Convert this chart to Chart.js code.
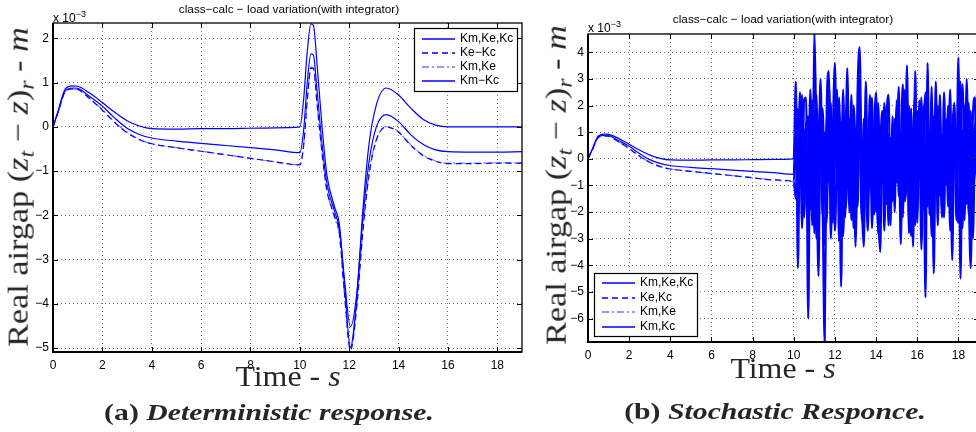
<!DOCTYPE html>
<html>
<head>
<meta charset="utf-8">
<script src="https://cdn.jsdelivr.net/npm/chart.js@4.4.1/dist/chart.umd.min.js"></script>
<style>
  html, body { margin: 0; padding: 0; background: #fff; }
  body { width: 976px; height: 432px; overflow: hidden; position: relative; font-family: "Liberation Sans", Arial, sans-serif; }
  .pane { position: absolute; top: 0; height: 432px; }
  .txt { position: absolute; white-space: nowrap; color: #000; }
  .title { font-size: 11.8px; line-height: 13px; transform: translateX(-50%); }
  .expo { font-size: 12px; line-height: 14px; }
  .expo sup { font-size: 9px; vertical-align: 5px; }
  .serif { font-family: "Liberation Serif", "Times New Roman", serif; font-size: 29px; line-height: 32px; color: #262626; }
  .ylab { transform: translate(-50%, -50%) rotate(-90deg) scaleX(1.18); }
  .xlab { transform: translate(-50%, -50%) scaleX(1.1); }
  .serif .sb { font-size: 0.7em; vertical-align: -0.28em; }
  .cap { font-family: "Liberation Serif", "Times New Roman", serif; font-size: 24px; line-height: 28px; font-weight: bold; color: #262626; transform: translate(-50%, -50%) scaleX(1.24); }
</style>
</head>
<body>
<div class="pane" style="left:0;width:540px"><canvas id="detChart" width="540" height="432"></canvas></div>
<div class="pane" style="left:540px;width:450px"><canvas id="stoChart" width="450" height="432"></canvas></div>

<div class="txt title" style="left:289px;top:3px">class−calc − load variation(with integrator)</div>
<div class="txt title" style="left:783px;top:13px">class−calc − load variation(with integrator)</div>
<div class="txt expo" style="left:53px;top:7px">x 10<sup>−3</sup></div>
<div class="txt expo" style="left:588px;top:17px">x 10<sup>−3</sup></div>

<div class="txt serif ylab" style="left:22px;top:187px">Real airgap (<i>z</i><span class="sb"><i>t</i></span> − <i>z</i>)<span class="sb"><i>r</i></span> - <i>m</i></div>
<div class="txt serif ylab" style="left:560px;top:185px">Real airgap (<i>z</i><span class="sb"><i>t</i></span> − <i>z</i>)<span class="sb"><i>r</i></span> - <i>m</i></div>
<div class="txt serif xlab" style="left:288px;top:376px">Time - <i>s</i></div>
<div class="txt serif xlab" style="left:783px;top:368px">Time - <i>s</i></div>

<div class="txt cap" style="left:269px;top:412px">(a) <i>Deterministic response.</i></div>
<div class="txt cap" style="left:775px;top:411px">(b) <i>Stochastic Responce.</i></div>

<script>
// ---- data (values x 10^-3) ----
const xTicks = [0, 2, 4, 6, 8, 10, 12, 14, 16, 18];
const detYTicks = [-5, -4, -3, -2, -1, 0, 1, 2];
const stoYTicks = [-6, -5, -4, -3, -2, -1, 0, 1, 2, 3, 4];

const detLabels = ['Km,Ke,Kc', 'Ke−Kc', 'Km,Ke', 'Km−Kc'];
const stoLabels = ['Km,Ke,Kc', 'Ke,Kc', 'Km,Ke', 'Km,Kc'];

// deterministic run
const detTime = [0, 0.2, 0.5, 0.8, 1.0, 1.5, 2, 2.5, 3, 3.5, 4, 5, 6, 7, 8, 9, 10,
  10.15, 10.3, 10.45, 10.55, 10.7, 10.9, 11.1, 11.4, 11.6, 11.8, 12.05, 12.3, 12.55, 12.8, 13.1, 13.5,
  14, 14.5, 15, 15.5, 16, 17, 18, 19];
const detKmKeKc = [0, 0.35, 0.86, 0.93, 0.92, 0.76, 0.55, 0.33, 0.14, 0.02, -0.04, -0.05, -0.04, -0.04, -0.03, -0.02, 0.0,
  0.6, 1.7, 2.33, 2.3, 1.4, 0.0, -1.1, -1.8, -2.2, -3.5, -4.98, -3.9, -1.9, -0.4, 0.5, 0.88,
  0.72, 0.42, 0.17, 0.04, 0.0, 0.0, 0.0, 0.0];
const detKmKc = [0, 0.33, 0.82, 0.88, 0.87, 0.68, 0.47, 0.2, -0.03, -0.17, -0.25, -0.32, -0.37, -0.42, -0.47, -0.52, -0.58,
  -0.1, 1.0, 1.65, 1.62, 0.8, -0.4, -1.3, -1.9, -2.3, -3.4, -4.52, -3.8, -2.1, -0.8, 0.0, 0.28,
  0.12, -0.18, -0.4, -0.52, -0.56, -0.57, -0.57, -0.56];
const detKeKc = [0, 0.32, 0.8, 0.86, 0.85, 0.63, 0.38, 0.1, -0.13, -0.29, -0.38, -0.47, -0.55, -0.63, -0.71, -0.79, -0.86,
  -0.45, 0.6, 1.33, 1.32, 0.5, -0.6, -1.45, -2.0, -2.4, -3.7, -5.05, -4.1, -2.4, -1.1, -0.3, 0.0,
  -0.12, -0.42, -0.65, -0.78, -0.83, -0.83, -0.82, -0.82];
const detKmKe = [0, 0.32, 0.8, 0.86, 0.85, 0.64, 0.39, 0.11, -0.12, -0.28, -0.38, -0.47, -0.55, -0.63, -0.71, -0.79, -0.86,
  -0.43, 0.62, 1.35, 1.33, 0.52, -0.58, -1.42, -2.05, -2.45, -3.75, -5.0, -4.05, -2.35, -1.05, -0.28, 0.01,
  -0.11, -0.41, -0.64, -0.77, -0.82, -0.82, -0.81, -0.81];

// stochastic run: same transient up to t = 10 s, then the noisy part
const noiseTime = [10.1, 10.2, 10.3, 10.4, 10.5, 10.6, 10.7, 10.8, 10.9, 11.0,
  11.1, 11.2, 11.3, 11.4, 11.5, 11.6, 11.7, 11.8, 11.9, 12.0,
  12.1, 12.2, 12.3, 12.4, 12.5, 12.6, 12.7, 12.8, 12.9, 13.0,
  13.1, 13.2, 13.3, 13.4, 13.5, 13.6, 13.7, 13.8, 13.9, 14.0,
  14.1, 14.2, 14.3, 14.4, 14.5, 14.6, 14.7, 14.8, 14.9, 15.0,
  15.1, 15.2, 15.3, 15.4, 15.5, 15.6, 15.7, 15.8, 15.9, 16.0,
  16.1, 16.2, 16.3, 16.4, 16.5, 16.6, 16.7, 16.8, 16.9, 17.0,
  17.1, 17.2, 17.3, 17.4, 17.5, 17.6, 17.7, 17.8, 17.9, 18.0,
  18.1, 18.2, 18.3, 18.4, 18.5, 18.6, 18.7, 18.8, 18.9, 19.0];
const noiseKmKeKc = [2.9, -4.1, 1.5, -1.8, 2.2, 2.3, -6.0, 1.2, -2.5, 4.7,
  0.5, -4.4, 2.1, -1.5, -6.9, 1.8, 3.3, -3.0, 1.0, 3.6,
  -1.2, 0.8, -4.8, 1.9, -0.6, 3.4, -2.0, 0.4, 1.6, -3.3,
  2.5, 4.2, -1.4, -3.3, 1.2, -0.8, 2.4, -2.6, 0.9, 2.5,
  -1.9, -3.5, 1.3, -0.7, 1.6, -2.1, 0.6, -1.3, 1.2, -0.9,
  0.7, -3.2, 1.8, -1.0, 3.5, -2.4, 0.8, -3.3, 3.3, -1.1,
  1.4, -2.0, 0.5, -5.2, 3.6, -1.6, 2.7, -4.3, 0.9, -1.5,
  1.7, -2.2, 0.4, 1.2, -1.8, 1.2, -3.8, 2.0, -0.5, 3.8,
  -4.5, 1.1, -2.3, 3.0, -1.2, -4.1, 1.5, 2.3, -0.9, 1.4];
const noiseKeKc = [-1.5, 1.9, -0.6, 2.4, -2.2, 0.9, 1.6, -1.9, 2.2, -2.8,
  1.3, -0.2, 3.0, -1.7, -3.2, 1.5, -0.9, 2.1, -2.0, 0.4,
  2.6, -3.1, 1.4, 0.1, -2.2, 2.8, -0.6, -1.8, 1.7, -2.9,
  0.9, 3.1, -2.3, 0.6, 1.9, -1.5, -0.2, 2.3, -2.1, 1.1,
  -2.6, 0.3, 1.8, -1.2, 2.0, -2.5, 0.8, -1.6, 1.5, -0.7,
  2.7, -2.0, 1.2, -1.1, 2.4, -2.8, 1.9, -0.5, 1.3, -2.4,
  2.2, -3.4, 1.0, 2.5, -1.8, 0.7, -2.9, 1.6, -0.8, 2.0,
  -1.4, 0.9, -2.2, 1.5, -0.3, 2.6, -2.6, 1.7, -1.0, 0.6,
  2.9, -2.0, 0.4, -1.7, 2.1, -2.4, 1.2, -0.6, 2.5, -1.8];
const noiseKmKe = [0.6, -1.2, 2.5, -2.6, 1.1, -0.3, -2.2, 1.7, 0.8, -1.6,
  2.4, -2.5, 0.9, 1.9, -1.1, -2.4, 2.2, -0.6, 1.3, -2.7,
  0.2, 1.8, -1.0, 2.6, -1.9, -0.8, 1.5, -2.3, 2.0, 0.5,
  -1.8, 1.3, 0.3, -2.4, 2.9, -0.9, 1.4, -1.6, 0.7, -2.0,
  2.1, -1.1, 0.5, -2.7, 1.3, 2.4, -1.2, 0.6, -2.0, 1.9,
  -0.9, 0.2, 2.8, -1.6, -0.4, 2.0, -1.3, 1.1, -2.5, 1.8,
  -0.7, 2.3, -1.9, -0.2, 1.4, -2.1, 2.2, -0.6, 1.0, -2.5,
  2.4, -1.6, 0.4, -1.0, 2.0, -1.9, 0.8, 1.5, -2.3, 1.9,
  -0.4, -2.6, 1.7, 2.1, -1.3, 0.9, -2.2, 1.3, -0.8, 0.5];
const noiseKmKc = [1.2, -2.3, 2.0, -0.8, -1.9, 1.4, -2.7, 2.6, -0.4, 1.8,
  -3.0, 0.7, 2.2, -2.1, 1.0, -1.6, 2.8, 0.3, -2.4, 1.9,
  -0.7, 2.3, -1.8, -2.9, 1.1, 2.0, -1.3, 2.4, -2.6, 0.8,
  -1.1, 2.7, -2.0, 1.5, -0.5, -2.7, 1.9, 0.2, -1.6, 2.3,
  -2.8, 1.2, -0.9, 2.1, -1.7, 0.9, -2.5, 1.6, -0.3, 2.2,
  -1.4, 1.0, -2.2, 2.6, -0.6, 1.3, -2.9, 0.7, 2.4, -1.9,
  1.1, -0.8, 2.0, -2.3, 1.7, -1.0, 0.5, -2.6, 2.9, -1.2,
  0.8, -1.9, 2.5, -0.4, 1.6, -2.7, 0.9, 2.1, -1.5, -2.4,
  1.4, 2.8, -0.7, 1.0, -2.1, 1.8, -3.0, 0.6, 2.2, -1.3];

const preCount = 17; // detTime entries up to t = 10
const stoTime = detTime.slice(0, preCount).concat(noiseTime);
const stoKmKeKc = detKmKeKc.slice(0, preCount).concat(noiseKmKeKc);
const stoKeKc = detKeKc.slice(0, preCount).concat(noiseKeKc);
const stoKmKe = detKmKe.slice(0, preCount).concat(noiseKmKe);
const stoKmKc = detKmKc.slice(0, preCount).concat(noiseKmKc);

// ---- styling ----
const lineStyles = [
  { borderColor: '#0000ff', borderDash: [] },
  { borderColor: '#0000ff', borderDash: [6, 4] },
  { borderColor: '#7777ff', borderDash: [7, 3, 2, 3] },
  { borderColor: '#0000ff', borderDash: [] }
];
const fmt = v => (v < 0 ? '\u2212' + Math.abs(v) : String(v));
const tickFont = { family: 'Liberation Sans', size: 12 };

// box, inside tick marks and legend, matlab style
const frame = {
  id: 'frame',
  afterDraw(chart, args, opts) {
    const { ctx, chartArea: a, scales: { x, y } } = chart;
    ctx.save();
    ctx.strokeStyle = '#000';
    ctx.lineWidth = 1;
    ctx.beginPath();
    x.ticks.forEach(t => {
      const px = Math.round(x.getPixelForValue(t.value)) + 0.5;
      ctx.moveTo(px, a.bottom); ctx.lineTo(px, a.bottom - 5);
      ctx.moveTo(px, a.top); ctx.lineTo(px, a.top + 5);
    });
    y.ticks.forEach(t => {
      const py = Math.round(y.getPixelForValue(t.value)) + 0.5;
      ctx.moveTo(a.left, py); ctx.lineTo(a.left + 5, py);
      ctx.moveTo(a.right, py); ctx.lineTo(a.right - 5, py);
    });
    ctx.stroke();
    ctx.lineWidth = 1.3;
    ctx.strokeRect(a.left, a.top, a.right - a.left, a.bottom - a.top);
    ctx.lineWidth = 2;
    ctx.beginPath();
    ctx.moveTo(a.left, a.top); ctx.lineTo(a.left, a.bottom); ctx.lineTo(a.right, a.bottom);
    ctx.stroke();

    const lg = opts.legend;
    if (lg) {
      ctx.fillStyle = '#fff';
      ctx.fillRect(lg.left, lg.top, lg.width, lg.height);
      ctx.lineWidth = 1.2;
      ctx.strokeStyle = '#000';
      ctx.strokeRect(lg.left + 0.5, lg.top + 0.5, lg.width, lg.height);
      ctx.font = '12px "Liberation Sans"';
      ctx.textBaseline = 'middle';
      chart.data.datasets.forEach((ds, i) => {
        const ry = Math.round(lg.top + lg.first + i * lg.step);
        ctx.strokeStyle = ds.borderColor;
        ctx.lineWidth = 1.5;
        ctx.setLineDash(ds.borderDash);
        ctx.beginPath();
        ctx.moveTo(lg.left + 8, ry); ctx.lineTo(lg.left + 41, ry);
        ctx.stroke();
        ctx.setLineDash([]);
        ctx.fillStyle = '#000';
        ctx.fillText(ds.label, lg.left + 46, ry);
      });
    }
    ctx.restore();
  }
};

function makeChart(id, time, series, labels, cfg) {
  const datasets = series.map((vals, i) => ({
    label: labels[i],
    data: time.map((t, k) => ({ x: t, y: vals[k] })),
    borderWidth: 1.2,
    pointRadius: 0,
    fill: false,
    cubicInterpolationMode: 'monotone',
    ...lineStyles[i],
    // the noisy stretch reads as one solid blue mass in the original
    segment: cfg.noiseFrom === undefined ? {} : {
      borderDash: c => (c.p0.parsed.x >= cfg.noiseFrom ? [] : undefined),
      borderColor: c => (c.p0.parsed.x >= cfg.noiseFrom ? '#0000ff' : undefined),
      borderWidth: c => (c.p0.parsed.x >= cfg.noiseFrom ? 2.2 : undefined)
    }
  }));
  return new Chart(document.getElementById(id), {
    type: 'line',
    data: { datasets },
    options: {
      responsive: false,
      animation: false,
      layout: { padding: cfg.padding },
      plugins: { legend: { display: false }, tooltip: { enabled: false }, frame: { legend: cfg.legend } },
      scales: {
        x: {
          type: 'linear', min: 0, max: 19,
          afterBuildTicks: s => { s.ticks = xTicks.map(v => ({ value: v })); },
          afterFit: s => { s.height = cfg.xHeight; },
          grid: { color: 'rgba(0,0,0,0.55)', lineWidth: 1, drawTicks: false },
          border: { display: false, dash: [1, 3] },
          ticks: { padding: 6, color: '#000', font: tickFont, maxRotation: 0, autoSkip: false, callback: fmt }
        },
        y: {
          type: 'linear', min: cfg.yMin, max: cfg.yMax,
          afterBuildTicks: s => { s.ticks = cfg.yTicks.map(v => ({ value: v })); },
          afterFit: s => { s.width = 40; },
          grid: { color: 'rgba(0,0,0,0.55)', lineWidth: 1, drawTicks: false },
          border: { display: false, dash: [1, 3] },
          ticks: { padding: 4, color: '#000', font: tickFont, autoSkip: false, callback: fmt }
        }
      }
    },
    plugins: [frame]
  });
}

makeChart('detChart', detTime, [detKmKeKc, detKeKc, detKmKe, detKmKc], detLabels, {
  padding: { left: 13, top: 23, right: 18, bottom: 0 },
  xHeight: 80, yMin: -5.09, yMax: 2.35, yTicks: detYTicks,
  legend: { left: 414, top: 28, width: 103, height: 63, first: 11, step: 14 }
});

makeChart('stoChart', stoTime, [stoKmKeKc, stoKeKc, stoKmKe, stoKmKc], stoLabels, {
  padding: { left: 8, top: 34, right: 11, bottom: 10 },
  xHeight: 80, yMin: -6.88, yMax: 4.69, yTicks: stoYTicks,
  noiseFrom: 10,
  legend: { left: 54, top: 273, width: 103, height: 63, first: 10, step: 14.5 }
});
</script>
</body>
</html>
